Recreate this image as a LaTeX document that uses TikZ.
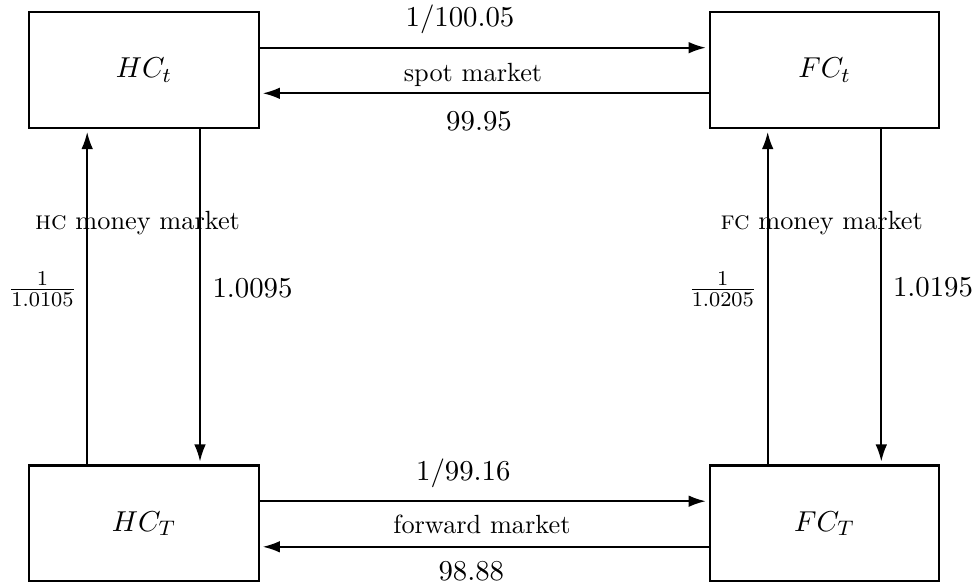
\documentclass[tikz,border=0pt]{standalone}
\usetikzlibrary{arrows.meta}
\newcommand{\numsize}{\fontsize{10.95}{13.6}\selectfont}
\begin{document}
\begin{tikzpicture}[x=0.38023pt, y=-0.38023pt,
  box/.style={draw, line width=0.8pt, minimum width=87.3pt, minimum height=44.1pt, inner sep=0pt, font=\numsize},
  arr/.style={line width=0.7pt, -{Latex[length=6.5pt,width=4.4pt]}, shorten >=1.1pt},
  num/.style={anchor=base, inner sep=0pt, font=\numsize},
  lbl/.style={anchor=base, inner sep=0pt, font=\fontsize{10}{12}\selectfont}]
\useasboundingbox (0,0) rectangle (979,582);
% boxes
\node[box] (hct) at (144,70) {$HC_t$};
\node[box] (fct) at (824.5,70) {$FC_t$};
\node[box] (hcT) at (144,523.5) {$HC_T$};
\node[box] (fcT) at (824.5,523.5) {$FC_T$};
% labels
\node[num] (s1) at (460,26.5) {$1/100.05$};
\node[lbl] (spot) at (473,81.7) {spot market};
\node[num] (s2) at (479,130) {$99.95$};
\node[num] (f1) at (463.3,480) {$1/99.16$};
\node[lbl] (fwd) at (482,533.3) {forward market};
\node[num] (f2) at (471.3,580) {$98.88$};
\node[lbl] (hcmm) at (137.5,229.3) {\textsc{hc} money market};
\node[lbl] (fcmm) at (821.7,229.3) {\textsc{fc} money market};
\node[num] (h1) at (42.5,296.5) {$\frac{1}{1.0105}$};
\node[num] (h2) at (252.5,297) {$1.0095$};
\node[num] (k1) at (722.8,296.5) {$\frac{1}{1.0205}$};
\node[num] (k2) at (933,296.7) {$1.0195$};
% spot market
\draw[arr] ([yshift=8.48pt]hct.east) -- ([yshift=8.48pt]fct.west);
\draw[arr] ([yshift=-8.86pt]fct.west) -- ([yshift=-8.86pt]hct.east);
% forward market
\draw[arr] ([yshift=8.48pt]hcT.east) -- ([yshift=8.48pt]fcT.west);
\draw[arr] ([yshift=-8.86pt]fcT.west) -- ([yshift=-8.86pt]hcT.east);
% HC money market
\draw[arr] ([xshift=-21.6pt]hcT.north) -- ([xshift=-21.6pt]hct.south);
\draw[arr] ([xshift=21.3pt]hct.south) -- ([xshift=21.3pt]hcT.north);
% FC money market
\draw[arr] ([xshift=-21.6pt]fcT.north) -- ([xshift=-21.6pt]fct.south);
\draw[arr] ([xshift=21.6pt]fct.south) -- ([xshift=21.6pt]fcT.north);
\end{tikzpicture}
\end{document}
